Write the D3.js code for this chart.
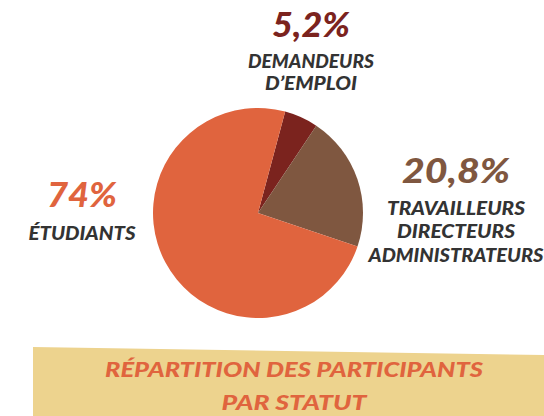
<!DOCTYPE html>
<html><head><meta charset="utf-8">
<script src="https://cdn.jsdelivr.net/npm/d3@7"></script>
<style>html,body{margin:0;padding:0;background:#fff;}svg{display:block;}</style>
</head><body>
<script>
const categories = ["Demandeurs d'emploi", "Travailleurs directeurs administrateurs", "Étudiants"];
const values = [5.2, 20.8, 74];
const valueLabels = ["5,2%", "20,8%", "74%"];
const nameLines = [["DEMANDEURS", "D’EMPLOI"], ["TRAVAILLEURS", "DIRECTEURS", "ADMINISTRATEURS"], ["ÉTUDIANTS"]];
const titleLines = ["RÉPARTITION DES PARTICIPANTS", "PAR STATUT"];

const palette = ["#7B231E", "#7F5740", "#E0643E"];
const W = 544, H = 416;
const font = "Lato, 'Open Sans', sans-serif";

const svg = d3.select("body").append("svg").attr("width", W).attr("height", H);

// pie
const cx = 258, cy = 213, r = 105;
const offset = 15 * Math.PI / 180;
const pie = d3.pie().sort(null).value(d => d).startAngle(offset).endAngle(offset + 2 * Math.PI);
const arc = d3.arc().innerRadius(0).outerRadius(r);
const color = d3.scaleOrdinal().domain(categories).range(palette);
svg.append("g").attr("transform", `translate(${cx},${cy})`)
  .selectAll("path").data(pie(values)).join("path")
  .attr("d", arc).attr("fill", (d, i) => color(categories[i]));

// labels: [centerX, valueBaseline, valueWidth, [line baselines], [line widths]]
const labelLayout = [
  {x: 311, vy: 37, vw: 78, ly: [68, 90], lw: [126, 92]},
  {x: 456, vy: 183, vw: 108, ly: [215, 238, 262], lw: [138, 118, 175]},
  {x: 82, vy: 207, vw: 70, ly: [240], lw: [107]}
];
labelLayout.forEach((L, i) => {
  const g = svg.append("g");
  g.append("text").attr("x", L.x).attr("y", L.vy).attr("text-anchor", "middle")
    .attr("font-family", font).attr("font-weight", 900).attr("font-style", "italic")
    .attr("font-size", 34).attr("fill", color(categories[i]))
    .attr("textLength", L.vw).attr("lengthAdjust", "spacingAndGlyphs")
    .text(valueLabels[i]);
  nameLines[i].forEach((t, j) => {
    g.append("text").attr("x", L.x).attr("y", L.ly[j]).attr("text-anchor", "middle")
      .attr("font-family", font).attr("font-weight", 900).attr("font-style", "italic")
      .attr("font-size", 19).attr("fill", "#333")
      .attr("textLength", L.lw[j]).attr("lengthAdjust", "spacingAndGlyphs")
      .text(t);
  });
});

// banner
svg.append("polygon").attr("points", "33,347 544,355 544,416 33,416").attr("fill", "#EDD38E");
const tl = [{x: 294, y: 377, w: 378}, {x: 294, y: 410, w: 145}];
titleLines.forEach((t, j) => {
  svg.append("text").attr("x", tl[j].x).attr("y", tl[j].y).attr("text-anchor", "middle")
    .attr("font-family", font).attr("font-weight", 900).attr("font-style", "italic")
    .attr("font-size", 21).attr("fill", "#E0643E")
    .attr("textLength", tl[j].w).attr("lengthAdjust", "spacingAndGlyphs")
    .text(t);
});
</script>
</body></html>
